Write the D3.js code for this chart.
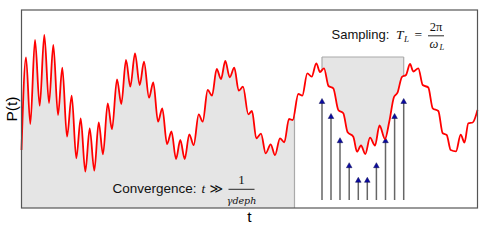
<!DOCTYPE html>
<html>
<head>
<meta charset="utf-8">
<script src="https://cdn.jsdelivr.net/npm/d3@7"></script>
<style>
  body { margin: 0; background: #fff; }
  text { font-family: "Liberation Sans", Arial, sans-serif; }
  .math { font-family: "Liberation Serif", "DejaVu Serif", serif; font-style: italic; }
</style>
</head>
<body>
<div id="chart"></div>
<script>
// P(t) curve (t and P in arbitrary units)
var tVals = [0, 4.5, 8.8, 13.5, 18.2, 22.8, 27.5, 31.8, 36.5, 40.8, 45.5, 50.2, 54.8, 59.2, 63.8, 68.2, 72.8,
    77.2, 81.5, 86.2, 90.5, 95.5, 99.8, 104.5, 108.8, 113.5, 118.2, 122.5, 127.5, 131.8, 136.5, 140.8, 145.5,
    150, 154.5, 158.8, 163.2, 167.8, 172.2, 177.2, 181.2, 186.2, 190.5, 195.2, 199.5, 203.8, 208.2, 212.8,
    217.2, 221.5, 226.8, 230.5, 234.8, 239.5, 244.2, 249.2, 253.5, 258.5, 262.8, 267.5, 271.2, 276.8, 280.8,
    285.8, 290.2, 294.8, 298.5, 302.5, 307, 311.8, 316.8, 321.8, 326, 331.8, 335.5, 339.5, 343.8, 348.5,
    353.5, 358, 363.5, 367.8, 372.5, 376, 380.5, 384.5, 388.5, 391.8, 396.8, 401.2, 406.8, 411.2, 416.8,
    421.2, 425.2, 429.2, 434.5, 439.2, 443, 446.8, 451.2, 456];
var pVals = [58, 150.7, 84, 168, 102.3, 173, 105, 163, 93, 140.3, 71.3, 112.3, 49.7, 89.7, 36.3, 79.7, 37.3,
    85.7, 53.7, 104.7, 78.7, 128.7, 104, 148, 121.3, 154.7, 123, 146.3, 110.3, 125.7, 86.3, 99.7, 64,
    76.5, 49, 68, 49, 73.7, 63, 93.7, 86.3, 118, 112.3, 139, 129, 147, 130.7, 140.3, 117.3, 121.3, 93.7,
    97, 69.7, 74.3, 54.7, 63.7, 53, 69.7, 65.7, 89, 88, 114, 112.3, 134.7, 131.3, 144.7, 136, 139.7, 122,
    119.7, 98, 94.7, 76, 71.3, 56.3, 62.5, 54, 70.3, 62.5, 82.5, 69, 86.5, 111, 115.3, 131.2, 133, 144,
    136.5, 139.7, 123, 120.5, 99.7, 97, 74.7, 73, 58, 56.7, 73.3, 65.5, 84.7, 85.5, 98];

// sampling arrows
var sampleT = [300.5, 309.5, 318.5, 327.7, 336.8, 345.8, 354.9, 364, 373.1, 382.2];
var sampleP = [109.5, 94.5, 70.3, 45.3, 30.7, 30.7, 45.3, 70.3, 94.5, 109.5];
var sampleBase = 8;

var convergenceEnd = 273;      // end of the grey convergence region
var windowTop = 151;           // top of the sampling window

var W = 491, H = 245;
var margin = { top: 10, right: 13.5, bottom: 37, left: 21.5 };
var width = W - margin.left - margin.right;
var height = H - margin.top - margin.bottom;

var data = tVals.map(function (t, i) { return { t: t, p: pVals[i] }; });

var x = d3.scaleLinear().domain([0, 456]).range([0, width]);
var y = d3.scaleLinear().domain([0, 198]).range([height, 0]);

var svg = d3.select("#chart").append("svg")
    .attr("width", W).attr("height", H)
    .append("g")
    .attr("transform", "translate(" + margin.left + "," + margin.top + ")");

var defs = svg.append("defs");

var under = d3.area().curve(d3.curveMonotoneX)
    .x(function (d) { return x(d.t); })
    .y0(height)
    .y1(function (d) { return y(d.p); });
var over = d3.area().curve(d3.curveMonotoneX)
    .x(function (d) { return x(d.t); })
    .y0(0)
    .y1(function (d) { return y(d.p); });
var win = d3.area().curve(d3.curveMonotoneX)
    .x(function (d) { return x(d.t); })
    .y0(y(windowTop))
    .y1(function (d) { return y(d.p); });
var line = d3.line().curve(d3.curveMonotoneX)
    .x(function (d) { return x(d.t); })
    .y(function (d) { return y(d.p); });

defs.append("clipPath").attr("id", "convClip").append("rect")
    .attr("x", 0).attr("y", 0).attr("width", x(convergenceEnd)).attr("height", height);
defs.append("clipPath").attr("id", "winClip").append("rect")
    .attr("x", x(sampleT[0])).attr("y", 0)
    .attr("width", x(sampleT[sampleT.length - 1]) - x(sampleT[0])).attr("height", height);
defs.append("clipPath").attr("id", "underClip").append("path").attr("d", under(data));
defs.append("clipPath").attr("id", "overClip").append("path").attr("d", over(data));

// convergence region
svg.append("path").attr("d", under(data))
    .attr("fill", "#e5e5e5").attr("clip-path", "url(#convClip)");
svg.append("line")
    .attr("x1", x(convergenceEnd)).attr("x2", x(convergenceEnd))
    .attr("y1", 0).attr("y2", height)
    .attr("stroke", "#aaa").attr("stroke-width", 1.2)
    .attr("clip-path", "url(#underClip)");

// sampling window
svg.append("path").attr("d", win(data))
    .attr("fill", "#e5e5e5").attr("clip-path", "url(#winClip)");
var wEdge = svg.append("g").attr("stroke", "#aaa").attr("stroke-width", 1.2).attr("fill", "none");
wEdge.append("line")
    .attr("x1", x(sampleT[0])).attr("x2", x(sampleT[sampleT.length - 1]))
    .attr("y1", y(windowTop)).attr("y2", y(windowTop));
[sampleT[0], sampleT[sampleT.length - 1]].forEach(function (t) {
    wEdge.append("line")
        .attr("x1", x(t)).attr("x2", x(t))
        .attr("y1", y(windowTop)).attr("y2", height)
        .attr("clip-path", "url(#overClip)");
});

// arrows
var arrows = svg.selectAll(".arrow").data(sampleT).enter().append("g").attr("class", "arrow");
arrows.append("line")
    .attr("x1", function (d) { return x(d); })
    .attr("x2", function (d) { return x(d); })
    .attr("y1", y(sampleBase))
    .attr("y2", function (d, i) { return y(sampleP[i]) + 3; })
    .attr("stroke", "#666").attr("stroke-width", 1.5);
arrows.append("path")
    .attr("d", function (d, i) {
        var px = x(d), py = y(sampleP[i]);
        return "M" + px + "," + py + "L" + (px + 2.8) + "," + (py + 5) + "L" + (px - 2.8) + "," + (py + 5) + "Z";
    })
    .attr("fill", "#0a0aa0").attr("stroke", "#111155").attr("stroke-width", 0.5);

// curve
svg.append("path").attr("d", line(data))
    .attr("fill", "none").attr("stroke", "#ff0000").attr("stroke-width", 1.8);

// frame
svg.append("rect").attr("x", 0).attr("y", 0).attr("width", width).attr("height", height)
    .attr("fill", "none").attr("stroke", "#555").attr("stroke-width", 1.2);

// axis labels
svg.append("text").attr("x", width / 2).attr("y", height + 14)
    .attr("text-anchor", "middle").attr("font-size", 15.5).text("t");
svg.append("text").attr("transform", "translate(-5," + (height / 2) + ") rotate(-90)")
    .attr("text-anchor", "middle").attr("font-size", 15.5).text("P(t)");

// convergence annotation
var conv = svg.append("g").attr("transform", "translate(91,0)").attr("fill", "#111");
conv.append("text").attr("x", 0).attr("y", 183).attr("font-size", 13.5).text("Convergence:");
conv.append("text").attr("class", "math").attr("x", 89).attr("y", 183).attr("font-size", 13.5).text("t");
conv.append("text").attr("x", 97).attr("y", 183).attr("font-size", 13).style("font-family", "DejaVu Sans").text("≫");
conv.append("line").attr("x1", 116).attr("x2", 142).attr("y1", 179.3).attr("y2", 179.3)
    .attr("stroke", "#111").attr("stroke-width", 0.9);
conv.append("text").attr("x", 129).attr("y", 174).attr("text-anchor", "middle")
    .attr("font-size", 13).style("font-family", "Liberation Serif").text("1");
conv.append("text").attr("class", "math").attr("x", 129).attr("y", 193.5).attr("text-anchor", "middle")
    .attr("font-size", 9.5).style("font-family", "DejaVu Serif").text("γdeph");

// sampling annotation
var samp = svg.append("g").attr("fill", "#111");
samp.append("text").attr("x", 310).attr("y", 29).attr("font-size", 13).text("Sampling:");
samp.append("text").attr("class", "math").attr("x", 374.5).attr("y", 29).attr("font-size", 13.5).text("T");
samp.append("text").attr("class", "math").attr("x", 382.5).attr("y", 32).attr("font-size", 9).text("L");
samp.append("text").attr("x", 393).attr("y", 29).attr("font-size", 13.5).style("font-family", "Liberation Serif").text("=");
samp.append("line").attr("x1", 406.5).attr("x2", 422.5).attr("y1", 25.8).attr("y2", 25.8)
    .attr("stroke", "#111").attr("stroke-width", 0.9);
samp.append("text").attr("x", 414.5).attr("y", 21).attr("text-anchor", "middle")
    .attr("font-size", 12.5).style("font-family", "Liberation Serif").text("2π");
samp.append("text").attr("class", "math").attr("x", 412.5).attr("y", 38).attr("text-anchor", "middle")
    .attr("font-size", 12.5).text("ω");
samp.append("text").attr("class", "math").attr("x", 418).attr("y", 40).attr("font-size", 8.5).text("L");
</script>
</body>
</html>
